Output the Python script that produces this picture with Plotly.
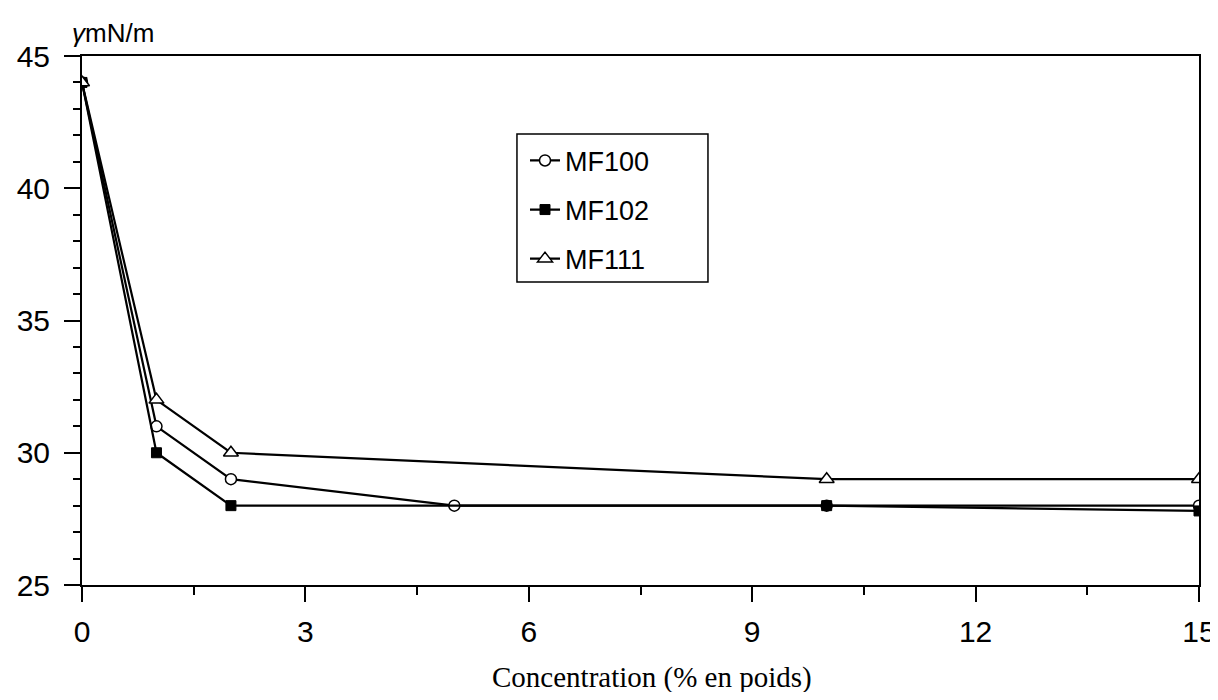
import plotly.graph_objects as go

x_mf100 = [0, 1, 2, 5, 10, 15]
y_mf100 = [44, 31, 29, 28, 28, 28]
x_mf102 = [0, 1, 2, 10, 15]
y_mf102 = [44, 30, 28, 28, 27.8]
x_mf111 = [0, 1, 2, 10, 15]
y_mf111 = [44, 32, 30, 29, 29]

x_ticks = [0, 3, 6, 9, 12, 15]
y_ticks = [25, 30, 35, 40, 45]

fig = go.Figure()
fig.add_trace(go.Scatter(x=x_mf100, y=y_mf100, name="MF100", mode="lines+markers",
                         legendgroup="a",
                         line=dict(color="black", width=2.2),
                         marker=dict(symbol="circle", size=11, color="white",
                                     line=dict(color="black", width=1.5))))
fig.add_trace(go.Scatter(x=x_mf102, y=y_mf102, name="MF102", mode="lines+markers",
                         legendgroup="b",
                         line=dict(color="black", width=2.2),
                         marker=dict(symbol="square", size=10, color="black",
                                     line=dict(color="black", width=1))))
fig.add_trace(go.Scatter(x=x_mf111, y=y_mf111, name="MF111", mode="lines+markers",
                         legendgroup="c",
                         line=dict(color="black", width=2.2),
                         marker=dict(symbol="triangle-up", size=13, color="white",
                                     line=dict(color="black", width=1.5))))

fig.update_layout(
    width=1210, height=684,
    margin=dict(l=74, r=19, t=48, b=107),
    paper_bgcolor="white", plot_bgcolor="white",
    showlegend=True,
    legend=dict(x=0.3966, y=0.848, xanchor="left", yanchor="top",
                bgcolor="rgba(0,0,0,0)", borderwidth=0,
                font=dict(family="Liberation Sans, Arial", size=27, color="black"),
                itemwidth=30, traceorder="grouped", tracegroupgap=11),
    font=dict(family="Liberation Sans, Arial", color="black"),
)
# legend frame
fig.add_shape(type="rect", xref="paper", yref="paper",
              x0=0.3894, x1=0.5604, y0=0.5728, y1=0.8526,
              line=dict(color="black", width=1.5), fillcolor="white", layer="above")
fig.update_xaxes(range=[0, 15], tickvals=x_ticks, ticktext=[str(v) for v in x_ticks],
                 ticks="outside", ticklen=15, tickwidth=1.5, tickcolor="black",
                 minor=dict(dtick=1.5, ticks="outside", ticklen=8, tickwidth=1.5, tickcolor="black"),
                 showline=True, linecolor="black", linewidth=2, mirror=True,
                 showgrid=False, zeroline=False, ticklabelstandoff=4, automargin=False,
                 ticklabeloverflow="allow",
                 tickfont=dict(family="Liberation Sans, Arial", size=30, color="black"))
fig.update_yaxes(range=[25, 45], tickvals=y_ticks, ticktext=[str(v) for v in y_ticks],
                 ticks="outside", ticklen=16, tickwidth=1.5, tickcolor="black",
                 minor=dict(dtick=1, ticks="outside", ticklen=7, tickwidth=1.5, tickcolor="black"),
                 showline=True, linecolor="black", linewidth=2, mirror=True,
                 showgrid=False, zeroline=False, ticklabelstandoff=8, automargin=False,
                 ticklabeloverflow="allow",
                 tickfont=dict(family="Liberation Sans, Arial", size=30, color="black"))

fig.add_annotation(xref="paper", yref="paper", x=0.51, y=0, xanchor="center", yanchor="middle",
                   yshift=-92, text="Concentration (% en poids)", showarrow=False,
                   font=dict(family="Liberation Serif, Times New Roman", size=29, color="black"))
fig.add_annotation(xref="paper", yref="paper", x=0.0, y=1.0, xanchor="left", yanchor="bottom",
                   text="<i>γ</i>mN/m", showarrow=False, xshift=-12, yshift=6,
                   font=dict(family="Liberation Sans, Arial", size=26, color="black"))

fig.write_html("out.html")
